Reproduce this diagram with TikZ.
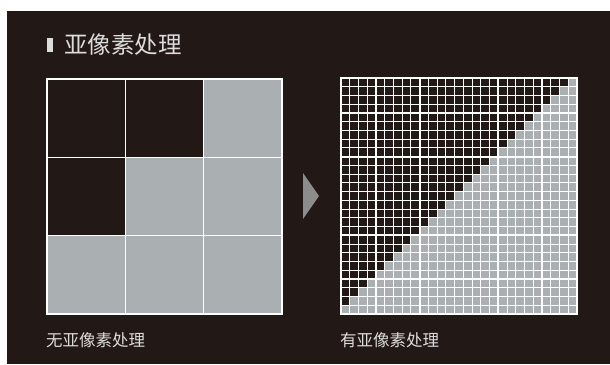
\documentclass[tikz,border=0pt]{standalone}
\usepackage{fontspec}
\newfontfamily\cjk{Noto Sans CJK SC}
\definecolor{bg}{HTML}{221816}
\definecolor{cellgrey}{HTML}{AAAFB2}
\definecolor{txt}{HTML}{DCDCDC}
\definecolor{arrowgrey}{HTML}{8C8C8C}
\tikzset{
  lbl/.style={anchor=west, inner sep=0pt, text=txt, font=\cjk\fontsize{16.5}{16.5}\selectfont},
  ttl/.style={anchor=west, inner sep=0pt, text=txt, font=\cjk\fontsize{23.5}{23.5}\selectfont},
  frame/.style={draw=white, line width=2pt},
  fine/.style={draw=white, line width=1.1pt},
  major/.style={draw=white, line width=2pt}
}
\begin{document}
\begin{tikzpicture}[x=1pt,y=-1pt]
\useasboundingbox (0,0) rectangle (610,364);
\fill[white] (0,0) rectangle (610,364);
\fill[bg] (7,11) rectangle (610,364);
% title
\fill[txt] (46.5,37.5) rectangle (53,52);
\node[ttl] (title) at (64,45) {亚像素处理};
% left grid
\def\lx{47}\def\ly{79}\def\ls{78.333}
\fill[cellgrey] (\lx,\ly) rectangle ({\lx+3*\ls},{\ly+3*\ls});
\fill[bg] (\lx,\ly) rectangle ({\lx+2*\ls},{\ly+\ls});
\fill[bg] (\lx,{\ly+\ls}) rectangle ({\lx+\ls},{\ly+2*\ls});
\foreach \i in {1,2}{
  \draw[fine, line width=1.3pt] ({\lx+\i*\ls},\ly) -- ({\lx+\i*\ls},{\ly+3*\ls});
  \draw[fine, line width=1.3pt] (\lx,{\ly+\i*\ls}) -- ({\lx+3*\ls},{\ly+\i*\ls});
}
\draw[frame] (\lx,\ly) rectangle ({\lx+3*\ls},{\ly+3*\ls});
% arrow
\fill[arrowgrey] (303,173) -- (303,219) -- (319,196) -- cycle;
% right grid
\def\rx{341}\def\ry{78}\def\rc{8.7407}
\fill[cellgrey] (\rx,\ry) rectangle ({\rx+27*\rc},{\ry+27*\rc});
\foreach \r in {0,...,25}{
  \fill[bg] (\rx,{\ry+\r*\rc}) rectangle ({\rx+(26-\r)*\rc},{\ry+(\r+1)*\rc});
}
\foreach \i in {1,...,26}{
  \draw[fine] ({\rx+\i*\rc},\ry) -- ({\rx+\i*\rc},{\ry+27*\rc});
  \draw[fine] (\rx,{\ry+\i*\rc}) -- ({\rx+27*\rc},{\ry+\i*\rc});
}
\foreach \i in {9,18}{
  \draw[major] ({\rx+\i*\rc},\ry) -- ({\rx+\i*\rc},{\ry+27*\rc});
  \draw[major] (\rx,{\ry+\i*\rc}) -- ({\rx+27*\rc},{\ry+\i*\rc});
}
\draw[frame] (\rx,\ry) rectangle ({\rx+27*\rc},{\ry+27*\rc});
% labels
\node[lbl] (lblL) at (46,340) {无亚像素处理};
\node[lbl] (lblR) at (340,340) {有亚像素处理};
\end{tikzpicture}
\end{document}
